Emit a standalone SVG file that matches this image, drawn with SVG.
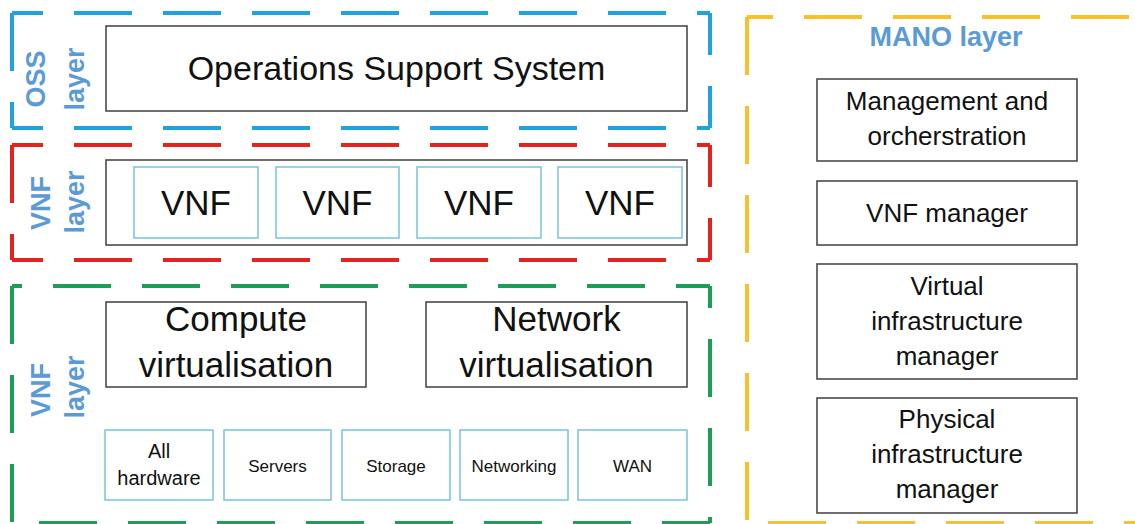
<svg xmlns="http://www.w3.org/2000/svg" width="1135" height="524" viewBox="0 0 1135 524">
  <style>
    .dash { fill: none; stroke-width: 4; stroke-dasharray: 58 31; }
    .blue { stroke: #1ea3dc; }
    .red { stroke: #e2231f; }
    .green { stroke: #1c9e57; }
    .yellow { stroke: #f6c02e; }
    .box { fill: #ffffff; stroke: #4a4a4a; stroke-width: 1.6; }
    .cell { fill: #ffffff; stroke: #6cc0da; stroke-width: 1.4; }
    .t { font-family: "Liberation Sans", Arial, sans-serif; fill: #111111; text-anchor: middle; }
    .big { font-size: 35px; }
    .mid { font-size: 26px; }
    .sm { font-size: 17px; }
    .hw { font-size: 20px; }
    .lbl { font-family: "Liberation Sans", Arial, sans-serif; font-weight: bold; fill: #5b9bd5; text-anchor: middle; font-size: 27px; }
  </style>
  <rect width="1135" height="524" fill="#ffffff"/>

  <!-- OSS layer -->
  <g id="oss-layer">
    <line class="dash blue" x1="12" y1="13" x2="710" y2="13" stroke-dashoffset="27"/>
    <line class="dash blue" x1="710" y1="13" x2="710" y2="128" stroke-dashoffset="16"/>
    <line class="dash blue" x1="12" y1="128" x2="710" y2="128" stroke-dashoffset="27"/>
    <line class="dash blue" x1="12" y1="13" x2="12" y2="128"/>
    <text class="lbl" transform="translate(45,79) rotate(-90)">OSS</text>
    <text class="lbl" transform="translate(84,79) rotate(-90)">layer</text>
  </g>
  <g id="oss">
    <rect class="box" x="106" y="26" width="581" height="85"/>
    <text class="t" x="396.5" y="80" font-size="34">Operations Support System</text>
  </g>

  <!-- VNF layer -->
  <g id="vnf-layer">
    <line class="dash red" x1="12" y1="145" x2="710" y2="145" stroke-dashoffset="27"/>
    <line class="dash red" x1="710" y1="145" x2="710" y2="260" stroke-dashoffset="16"/>
    <line class="dash red" x1="12" y1="260" x2="710" y2="260" stroke-dashoffset="27"/>
    <line class="dash red" x1="12" y1="145" x2="12" y2="260"/>
    <text class="lbl" transform="translate(50,203) rotate(-90)">VNF</text>
    <text class="lbl" transform="translate(84,202) rotate(-90)">layer</text>
  </g>
  <g id="vnf-group">
    <rect class="box" x="106" y="160" width="581" height="85"/>
  </g>
  <g id="vnf-1">
    <rect class="cell" x="134" y="167" width="124" height="71"/>
    <text class="t big" x="196" y="215">VNF</text>
  </g>
  <g id="vnf-2">
    <rect class="cell" x="276" y="167" width="123" height="71"/>
    <text class="t big" x="337.5" y="215">VNF</text>
  </g>
  <g id="vnf-3">
    <rect class="cell" x="417" y="167" width="124" height="71"/>
    <text class="t big" x="479" y="215">VNF</text>
  </g>
  <g id="vnf-4">
    <rect class="cell" x="558" y="167" width="124" height="71"/>
    <text class="t big" x="620" y="215">VNF</text>
  </g>

  <!-- Infrastructure layer -->
  <g id="infra-layer">
    <line class="dash green" x1="12" y1="286" x2="710" y2="286" stroke-dashoffset="48"/>
    <line class="dash green" x1="710" y1="286" x2="710" y2="523" stroke-dashoffset="36"/>
    <line class="dash green" x1="12" y1="523" x2="710" y2="523" stroke-dashoffset="62"/>
    <line class="dash green" x1="12" y1="286" x2="12" y2="523"/>
    <text class="lbl" transform="translate(50,390) rotate(-90)">VNF</text>
    <text class="lbl" transform="translate(84,387) rotate(-90)">layer</text>
  </g>
  <g id="compute-virt">
    <rect class="box" x="106" y="302" width="260" height="85"/>
    <text class="t big" x="236" y="331">Compute</text>
    <text class="t big" x="236" y="377">virtualisation</text>
  </g>
  <g id="network-virt">
    <rect class="box" x="426" y="302" width="261" height="85"/>
    <text class="t big" x="556.5" y="331">Network</text>
    <text class="t big" x="556.5" y="377">virtualisation</text>
  </g>
  <g id="hw-all">
    <rect class="cell" x="105" y="430" width="108" height="70"/>
    <text class="t hw" x="159" y="458">All</text>
    <text class="t hw" x="159" y="485">hardware</text>
  </g>
  <g id="hw-servers">
    <rect class="cell" x="224" y="430" width="107" height="70"/>
    <text class="t sm" x="277.5" y="472">Servers</text>
  </g>
  <g id="hw-storage">
    <rect class="cell" x="342" y="430" width="108" height="70"/>
    <text class="t sm" x="396" y="472">Storage</text>
  </g>
  <g id="hw-networking">
    <rect class="cell" x="460" y="430" width="108" height="70"/>
    <text class="t sm" x="514" y="472">Networking</text>
  </g>
  <g id="hw-wan">
    <rect class="cell" x="578" y="430" width="109" height="70"/>
    <text class="t sm" x="632.5" y="472">WAN</text>
  </g>

  <!-- MANO layer -->
  <g id="mano-layer">
    <line class="dash yellow" x1="747" y1="17" x2="1135" y2="17" stroke-dashoffset="32"/>
    <line class="dash yellow" x1="747" y1="17" x2="747" y2="520"/>
    <line class="dash yellow" x1="747" y1="523" x2="1135" y2="523" stroke-dashoffset="68"/>
    <text class="lbl" x="946" y="46" font-size="30">MANO layer</text>
  </g>
  <g id="mano-orchestration">
    <rect class="box" x="817" y="79" width="260" height="82"/>
    <text class="t mid" x="947" y="110">Management and</text>
    <text class="t mid" x="947" y="145">orcherstration</text>
  </g>
  <g id="vnf-manager">
    <rect class="box" x="817" y="181" width="260" height="64"/>
    <text class="t mid" x="947" y="222">VNF manager</text>
  </g>
  <g id="vim">
    <rect class="box" x="817" y="264" width="260" height="115"/>
    <text class="t mid" x="947" y="295">Virtual</text>
    <text class="t mid" x="947" y="330">infrastructure</text>
    <text class="t mid" x="947" y="365">manager</text>
  </g>
  <g id="pim">
    <rect class="box" x="817" y="398" width="260" height="115"/>
    <text class="t mid" x="947" y="428">Physical</text>
    <text class="t mid" x="947" y="463">infrastructure</text>
    <text class="t mid" x="947" y="498">manager</text>
  </g>

  <g id="connectors"/>
</svg>
